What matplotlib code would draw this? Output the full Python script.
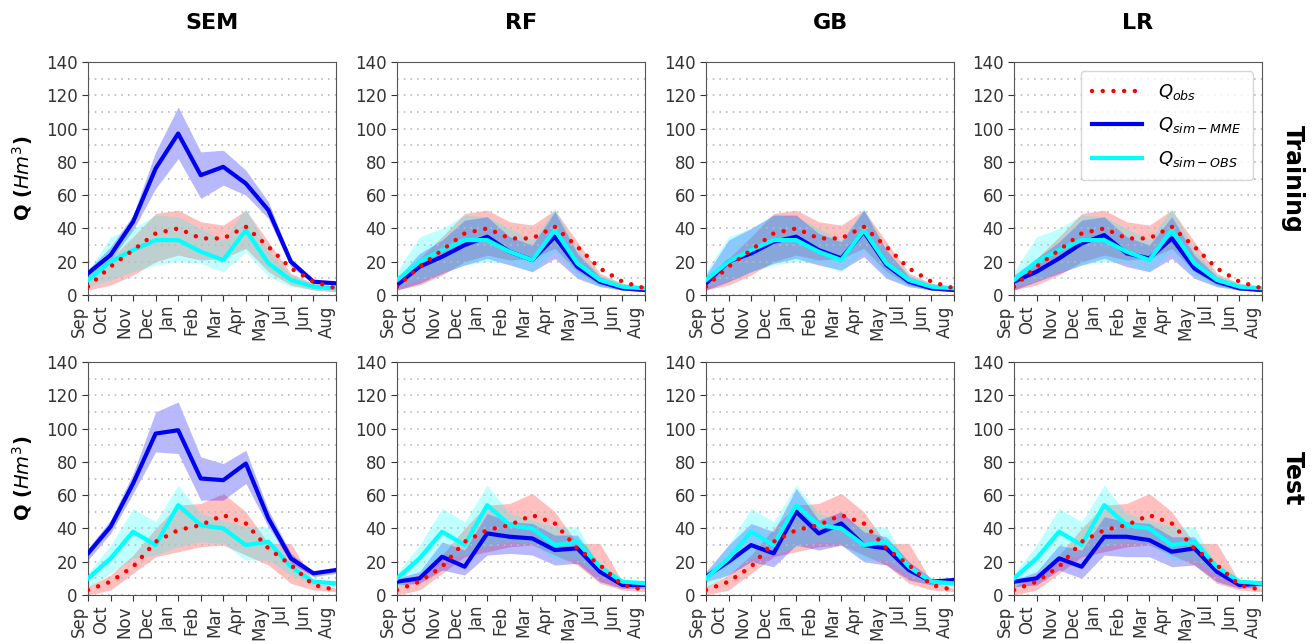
import matplotlib.pyplot as plt
from matplotlib.lines import Line2D

months = ['Sep', 'Oct', 'Nov', 'Dec', 'Jan', 'Feb', 'Mar', 'Apr', 'May', 'Jul', 'Jun', 'Aug']
models = ['SEM', 'RF', 'GB', 'LR']
rows = ['Training', 'Test']

# observed flow (same in every panel of a row)
obs_train = [5, 17, 27, 37, 40, 34, 34, 41, 29, 16, 8, 4]
obs_train_lo = [3, 6, 12, 20, 24, 21, 22, 28, 14, 6, 3, 2]
obs_train_hi = [8, 22, 35, 49, 51, 44, 42, 51, 32, 13, 7, 5]
obs_test = [3, 8, 17, 32, 39, 42, 48, 43, 28, 18, 6, 3]
obs_test_lo = [0, 3, 13, 23, 26, 29, 30, 24, 18, 7, 3, 2]
obs_test_hi = [5, 12, 24, 40, 54, 55, 61, 50, 31, 31, 8, 4]

# Qsim-OBS (same in every panel of a row)
simobs_train = [9, 20, 27, 33, 33, 26, 21, 39, 19, 9, 5, 4]
simobs_train_lo = [5, 9, 14, 18, 20, 19, 14, 26, 11, 5, 3, 2]
simobs_train_hi = [14, 35, 40, 48, 47, 40, 33, 52, 27, 12, 7, 5]
simobs_test = [10, 22, 38, 30, 54, 42, 40, 30, 32, 17, 8, 7]
simobs_test_lo = [4, 13, 22, 24, 29, 32, 31, 21, 21, 12, 6, 5]
simobs_test_hi = [13, 30, 52, 44, 66, 49, 45, 41, 41, 17, 9, 9]

# Qsim-MME per model
mme_train = {
    'SEM': [13, 24, 44, 76, 97, 72, 77, 67, 51, 20, 8, 7],
    'RF': [6, 17, 23, 30, 35, 26, 21, 35, 17, 8, 4, 3],
    'GB': [7, 20, 25, 32, 35, 27, 22, 38, 18, 8, 4, 3],
    'LR': [8, 14, 22, 31, 36, 25, 22, 34, 16, 8, 4, 3],
}
mme_train_lo = {
    'SEM': [10, 21, 39, 64, 82, 58, 66, 60, 46, 17, 7, 6],
    'RF': [3, 7, 13, 18, 22, 18, 14, 22, 10, 5, 3, 2],
    'GB': [3, 8, 14, 19, 22, 18, 15, 23, 10, 5, 3, 2],
    'LR': [3, 8, 13, 18, 22, 17, 14, 22, 10, 5, 3, 2],
}
mme_train_hi = {
    'SEM': [15, 29, 48, 86, 113, 86, 87, 75, 56, 22, 9, 8],
    'RF': [10, 25, 33, 45, 47, 35, 30, 50, 25, 11, 6, 4],
    'GB': [12, 33, 40, 48, 48, 37, 32, 51, 27, 11, 6, 4],
    'LR': [12, 22, 32, 45, 47, 35, 30, 47, 24, 11, 6, 4],
}
mme_test = {
    'SEM': [25, 41, 67, 97, 99, 70, 69, 79, 46, 22, 13, 15],
    'RF': [8, 10, 23, 17, 37, 35, 34, 27, 28, 14, 6, 6],
    'GB': [11, 20, 30, 25, 50, 37, 43, 30, 28, 15, 8, 9],
    'LR': [8, 10, 22, 17, 35, 35, 33, 26, 28, 14, 6, 7],
}
mme_test_lo = {
    'SEM': [21, 37, 61, 86, 85, 57, 57, 67, 41, 19, 11, 13],
    'RF': [6, 7, 15, 12, 24, 25, 24, 18, 19, 8, 4, 4],
    'GB': [8, 12, 20, 17, 30, 27, 30, 20, 18, 9, 6, 7],
    'LR': [5, 6, 15, 10, 24, 23, 23, 17, 18, 8, 4, 5],
}
mme_test_hi = {
    'SEM': [28, 45, 73, 110, 116, 83, 79, 87, 51, 25, 14, 16],
    'RF': [10, 14, 32, 27, 49, 44, 43, 36, 36, 18, 8, 7],
    'GB': [14, 30, 43, 38, 64, 45, 50, 38, 35, 20, 10, 10],
    'LR': [9, 14, 30, 27, 47, 44, 43, 35, 35, 17, 8, 8],
}

W, H = 1314, 644
fig = plt.figure(figsize=(W / 100, H / 100), dpi=100)

col_left = [88, 397, 706, 1014]
row_top = [62, 362]
aw, ah = 248, 233

x = list(range(len(months)))
dots = (0, (0.01, 2.4))

for r, row in enumerate(rows):
    if r == 0:
        obs, obs_lo, obs_hi = obs_train, obs_train_lo, obs_train_hi
        so, so_lo, so_hi = simobs_train, simobs_train_lo, simobs_train_hi
        mme, mme_lo, mme_hi = mme_train, mme_train_lo, mme_train_hi
    else:
        obs, obs_lo, obs_hi = obs_test, obs_test_lo, obs_test_hi
        so, so_lo, so_hi = simobs_test, simobs_test_lo, simobs_test_hi
        mme, mme_lo, mme_hi = mme_test, mme_test_lo, mme_test_hi

    for c, m in enumerate(models):
        ax = fig.add_axes([col_left[c] / W, 1 - (row_top[r] + ah) / H, aw / W, ah / H])

        ax.fill_between(x, obs_lo, obs_hi, color='red', alpha=0.25, lw=0)
        ax.fill_between(x, mme_lo[m], mme_hi[m], color='blue', alpha=0.28, lw=0)
        ax.fill_between(x, so_lo, so_hi, color='cyan', alpha=0.25, lw=0)

        ax.plot(x, mme[m], color='#0000f0', lw=3, zorder=3)
        ax.plot(x, so, color='cyan', lw=3, zorder=3)
        ax.plot(x, obs, color='red', lw=3.2, ls=dots, dash_capstyle='round', zorder=4)

        ax.set_xlim(0, 11)
        ax.set_ylim(0, 140)
        ax.set_yticks(range(0, 141, 20))
        ax.set_yticks(range(10, 140, 20), minor=True)
        ax.grid(axis='y', which='both', ls=(0, (1, 3)), color='#bbbbbb', lw=1.2)
        ax.tick_params(which='minor', length=0)
        ax.set_xticks(x)
        ax.set_xticklabels(months, rotation=90, ha='right')
        ax.tick_params(labelsize=12, colors='#333333', length=4)
        for s in ax.spines.values():
            s.set_color('#555555')

        if c == 0:
            ax.set_ylabel('Q ($Hm^3$)', fontsize=14, fontweight='bold', labelpad=8)
        if r == 0:
            ax.set_title(m, fontsize=16, fontweight='bold', pad=24)
        if c == 3:
            ax.text(1.125, 0.5, row, transform=ax.transAxes, rotation=270,
                    fontsize=17, fontweight='bold', va='center', ha='center')
        if r == 0 and c == 3:
            handles = [
                Line2D([], [], color='red', lw=3.2, ls=dots, dash_capstyle='round'),
                Line2D([], [], color='#0000f0', lw=3),
                Line2D([], [], color='cyan', lw=3),
            ]
            labels = ['$Q_{obs}$', '$Q_{sim-MME}$', '$Q_{sim-OBS}$']
            ax.legend(handles, labels, loc='upper right', fontsize=13,
                      handlelength=2.8, labelspacing=0.75, borderpad=0.6,
                      handletextpad=0.9)

fig.savefig('out.png', dpi=100)
